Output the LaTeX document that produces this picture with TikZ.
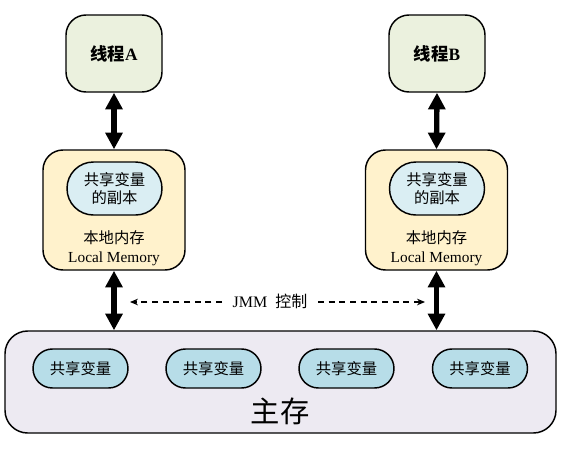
\documentclass[tikz,border=0pt]{standalone}
\usepackage{fontspec}
\setmainfont{Liberation Serif}
\newfontfamily\cjk{Noto Sans CJK SC}
\usetikzlibrary{arrows.meta}
\definecolor{thrfill}{HTML}{EBF1DE}
\definecolor{locfill}{HTML}{FFF2CC}
\definecolor{copyfill}{HTML}{DAEEF3}
\definecolor{mainfill}{HTML}{EDEAF2}
\definecolor{varfill}{HTML}{B7DDE8}
\begin{document}
\begin{tikzpicture}[x=0.75pt,y=-0.75pt,
  base/.style={draw=black,line width=1.1pt,inner sep=0pt,align=center},
  thread/.style={base,fill=thrfill,minimum width=72pt,minimum height=57.75pt,rounded corners=15pt,font=\cjk\bfseries\fontsize{13}{15}\selectfont},
  local/.style={base,fill=locfill,minimum width=106.5pt,minimum height=90pt,rounded corners=15pt},
  copybox/.style={base,fill=copyfill,minimum width=71.25pt,minimum height=39.75pt,rounded corners=19.8pt,font=\cjk\fontsize{11.5}{13}\selectfont},
  mainbox/.style={base,fill=mainfill,minimum width=413.25pt,minimum height=76.5pt,rounded corners=17pt},
  varbox/.style={base,fill=varfill,minimum width=71.25pt,minimum height=29.25pt,rounded corners=14.6pt,font=\cjk\fontsize{11.5}{13}\selectfont},
  bigarrow/.style={line width=4pt,{Triangle[width=12.5pt,length=12.5pt]}-{Triangle[width=12.5pt,length=12.5pt]}},
  dasharrow/.style={dash pattern=on 4.5pt off 3.5pt,line width=0.8pt,-{Stealth[length=6pt,width=5pt]}}
]
\useasboundingbox (0,0) rectangle (561,458);
% threads
\node[thread] (tA) at (114,53.5) {线程{\rmfamily\bfseries A}};
\node[thread] (tB) at (437,53.5) {线程{\rmfamily\bfseries B}};
% local memories
\node[local] (lA) at (114,210) {};
\node[local] (lB) at (436.5,210) {};
\node[copybox] (cA) at (114.5,188.5) {共享变量\\的副本};
\node[copybox] (cB) at (437,188.5) {共享变量\\的副本};
\node[font=\cjk\fontsize{11.5}{13}\selectfont] (kA) at (114,238) {本地内存};
\node[font=\fontsize{11.5}{13}\selectfont] (mA) at (114,258.5) {Local Memory};
\node[font=\cjk\fontsize{11.5}{13}\selectfont] (kB) at (436.5,238) {本地内存};
\node[font=\fontsize{11.5}{13}\selectfont] (mB) at (436.5,258.5) {Local Memory};
% main memory
\node[mainbox] (main) at (280.5,382) {};
\node[varbox] (v1) at (80.5,368.5) {共享变量};
\node[varbox] (v2) at (213.5,368.5) {共享变量};
\node[varbox] (v3) at (346.5,368.5) {共享变量};
\node[varbox] (v4) at (480,368.5) {共享变量};
\node[font=\cjk\fontsize{22}{24}\selectfont] (zc) at (280,411) {主存};
% arrows
\draw[bigarrow] (tA.south) -- (lA.north);
\draw[bigarrow] (tB.south) -- (lB.north);
\draw[bigarrow] (lA.south) -- (lA.south |- main.north);
\draw[bigarrow] (lB.south) -- (lB.south |- main.north);
% JMM control
\node[font=\fontsize{12}{14}\selectfont] (jmm) at (270,301) {JMM\ \ {\cjk 控制}};
\coordinate (jl) at (130,302);
\coordinate (jr) at (425,302);
\draw[dasharrow] (222,302) -- (jl);
\draw[dasharrow] (318,302) -- (jr);
\end{tikzpicture}
\end{document}
